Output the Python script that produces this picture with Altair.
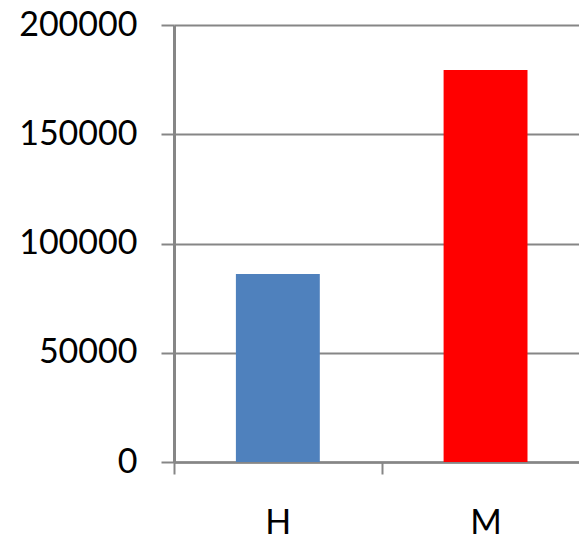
import altair as alt
import pandas as pd

# Two categories and their totals
categories = ["H", "M"]
values = [86000, 179400]
bar_colors = ["#4F81BD", "#FF0000"]

df = pd.DataFrame({"category": categories, "value": values, "color": bar_colors})

GRAY = "#868686"
FONT = "Lato"

chart = (
    alt.Chart(df)
    .mark_bar()
    .encode(
        x=alt.X(
            "category:N",
            sort=categories,
            title=None,
            scale=alt.Scale(range=[0, 415.4], paddingInner=0.596, paddingOuter=0.298),
            axis=alt.Axis(
                labelAngle=0,
                labelFont=FONT,
                labelFontSize=34,
                labelColor="#000000",
                labelPadding=32,
                labelOffset=61.9,
                bandPosition=0,
                tickOffset=-61.9,
                tickSize=12,
                tickWidth=2,
                tickColor=GRAY,
                domainColor=GRAY,
                domainWidth=2.5,
                grid=False,
            ),
        ),
        y=alt.Y(
            "value:Q",
            title=None,
            scale=alt.Scale(domain=[0, 200000], nice=False),
            axis=alt.Axis(
                values=[0, 50000, 100000, 150000, 200000],
                format="d",
                labelFont=FONT,
                labelFontSize=34,
                labelColor="#000000",
                labelPadding=24,
                tickSize=13,
                tickWidth=2,
                tickColor=GRAY,
                domainColor=GRAY,
                domainWidth=3,
                grid=True,
                gridColor=GRAY,
                gridWidth=2,
                gridOpacity=1,
            ),
        ),
        color=alt.Color("color:N", scale=None, legend=None),
    )
    .properties(
        width=405,
        height=437,
        autosize=alt.AutoSizeParams(type="none"),
        padding={"left": 174, "top": 25, "right": 0, "bottom": 79},
    )
    .configure_view(strokeWidth=0)
)

chart.save("out.html", embed_options={"renderer": "svg", "actions": False})
